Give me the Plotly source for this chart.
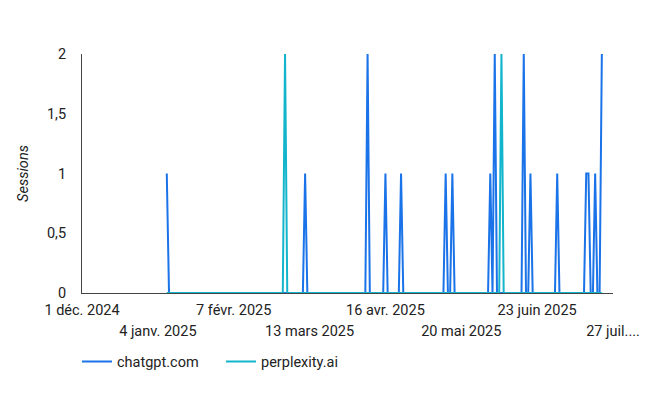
import pandas as pd
import plotly.graph_objects as go

# ---- data ----
start_date = "2025-01-08"
end_date = "2025-07-22"

chatgpt_dates = ["2025-01-08", "2025-03-11", "2025-04-08", "2025-04-16", "2025-04-23",
                 "2025-05-13", "2025-05-16", "2025-06-02", "2025-06-04", "2025-06-17",
                 "2025-06-20", "2025-07-02", "2025-07-15", "2025-07-16", "2025-07-19",
                 "2025-07-22"]
chatgpt_sessions = [1, 1, 2, 1, 1, 1, 1, 1, 2, 2, 1, 1, 1, 1, 1, 2]

perplexity_dates = ["2025-03-02", "2025-06-07"]
perplexity_sessions = [2, 2]

tick_dates_row1 = ["2024-12-01", "2025-02-07", "2025-04-16", "2025-06-23"]
tick_text_row1 = ["1 déc. 2024", "7 févr. 2025", "16 avr. 2025", "23 juin 2025"]
tick_dates_row2 = ["2025-01-04", "2025-03-13", "2025-05-20", "2025-07-27"]
tick_text_row2 = ["4 janv. 2025", "13 mars 2025", "20 mai 2025", "27 juil...."]

y_ticks = [0, 0.5, 1, 1.5, 2]
y_tick_text = ["0", "0,5", "1", "1,5", "2"]

x_range = ["2024-12-01", "2025-07-27"]

# ---- build daily series (days without sessions = 0) ----
days = pd.date_range(start_date, end_date, freq="D")
chat = pd.Series(0, index=days)
chat[pd.to_datetime(chatgpt_dates)] = chatgpt_sessions
perp = pd.Series(0, index=days)
perp[pd.to_datetime(perplexity_dates)] = perplexity_sessions

FONT = "Roboto, Arial, sans-serif"
TXT = "#222222"
FS = 14.5

fig = go.Figure()
fig.add_trace(go.Scatter(x=chat.index, y=chat.values, mode="lines", name="chatgpt.com",
                         line=dict(color="#1a73e8", width=2)))
fig.add_trace(go.Scatter(x=perp.index, y=perp.values, mode="lines", name="perplexity.ai",
                         line=dict(color="#12b5cb", width=2)))
# helper trace so the second (staggered) label row axis is drawn
fig.add_trace(go.Scatter(x=x_range, y=[None, None], xaxis="x2", yaxis="y",
                         mode="lines", showlegend=False, hoverinfo="skip"))

fig.update_layout(
    width=652, height=396,
    margin=dict(l=74, r=47, t=46, b=111),
    plot_bgcolor="white", paper_bgcolor="white",
    font=dict(family=FONT, size=FS, color=TXT),
    xaxis=dict(type="date", range=x_range, showgrid=False, zeroline=False,
               showline=True, linecolor="#444444", linewidth=1,
               tickmode="array", tickvals=tick_dates_row1, ticktext=tick_text_row1,
               ticks="", ticklabelstandoff=4,
               tickfont=dict(family=FONT, size=FS, color=TXT)),
    xaxis2=dict(type="date", range=x_range, overlaying="x", anchor="y", side="bottom",
                showgrid=False, zeroline=False, showline=False,
                tickmode="array", tickvals=tick_dates_row2, ticktext=tick_text_row2,
                ticks="", ticklabelstandoff=27,
                tickfont=dict(family=FONT, size=FS, color=TXT)),
    yaxis=dict(range=[0, 2], showgrid=False, zeroline=False,
               showline=True, linecolor="#444444", linewidth=1,
               tickmode="array", tickvals=y_ticks, ticktext=y_tick_text,
               ticks="", ticklabelstandoff=12,
               tickfont=dict(family=FONT, size=FS, color=TXT),
               title=dict(text="<i>Sessions</i>", standoff=14,
                          font=dict(family=FONT, size=FS, color=TXT))),
    legend=dict(orientation="h", x=-0.0094, xanchor="left", y=-0.22, yanchor="top",
                font=dict(family=FONT, size=FS, color=TXT),
                itemwidth=30, traceorder="normal",
                entrywidth=99, entrywidthmode="pixels"),
    showlegend=True,
)

fig.write_html("out.html")
